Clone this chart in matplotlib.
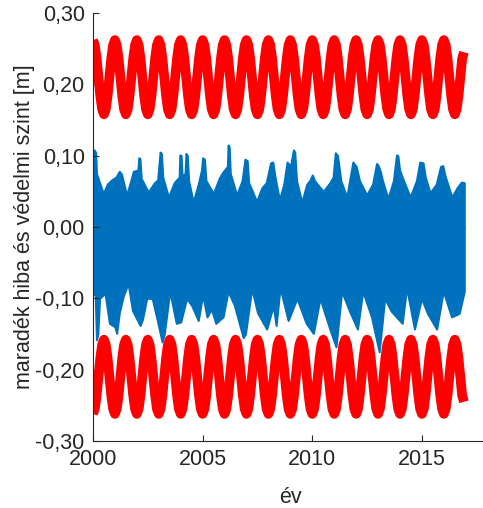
import matplotlib
matplotlib.use("Agg")
import matplotlib.pyplot as plt
import numpy as np

# védelmi szint (protection level), monthly values from Jan 2000, drawn as +/- level
vedelmi_szint = [
    0.262, 0.255, 0.236, 0.210, 0.184, 0.165, 0.158, 0.165, 0.184, 0.210, 0.236, 0.255,  # 2000
    0.262, 0.255, 0.236, 0.210, 0.184, 0.165, 0.158, 0.165, 0.184, 0.210, 0.236, 0.255,  # 2001
    0.262, 0.255, 0.236, 0.210, 0.184, 0.165, 0.158, 0.165, 0.184, 0.210, 0.236, 0.255,  # 2002
    0.262, 0.255, 0.236, 0.210, 0.184, 0.165, 0.158, 0.165, 0.184, 0.210, 0.236, 0.255,  # 2003
    0.262, 0.255, 0.236, 0.210, 0.184, 0.165, 0.158, 0.165, 0.184, 0.210, 0.236, 0.255,  # 2004
    0.262, 0.255, 0.236, 0.210, 0.184, 0.165, 0.158, 0.165, 0.184, 0.210, 0.236, 0.255,  # 2005
    0.262, 0.255, 0.236, 0.210, 0.184, 0.165, 0.158, 0.165, 0.184, 0.210, 0.236, 0.255,  # 2006
    0.262, 0.255, 0.236, 0.210, 0.184, 0.165, 0.158, 0.165, 0.184, 0.210, 0.236, 0.255,  # 2007
    0.262, 0.255, 0.236, 0.210, 0.184, 0.165, 0.158, 0.165, 0.184, 0.210, 0.236, 0.255,  # 2008
    0.262, 0.255, 0.236, 0.210, 0.184, 0.165, 0.158, 0.165, 0.184, 0.210, 0.236, 0.255,  # 2009
    0.262, 0.255, 0.236, 0.210, 0.184, 0.165, 0.158, 0.165, 0.184, 0.210, 0.236, 0.255,  # 2010
    0.262, 0.255, 0.236, 0.210, 0.184, 0.165, 0.158, 0.165, 0.184, 0.210, 0.236, 0.255,  # 2011
    0.262, 0.255, 0.236, 0.210, 0.184, 0.165, 0.158, 0.165, 0.184, 0.210, 0.236, 0.255,  # 2012
    0.262, 0.255, 0.236, 0.210, 0.184, 0.165, 0.158, 0.165, 0.184, 0.210, 0.236, 0.255,  # 2013
    0.262, 0.255, 0.236, 0.210, 0.184, 0.165, 0.158, 0.165, 0.184, 0.210, 0.236, 0.255,  # 2014
    0.262, 0.255, 0.236, 0.210, 0.184, 0.165, 0.158, 0.165, 0.184, 0.210, 0.236, 0.255,  # 2015
    0.262, 0.255, 0.236, 0.210, 0.184, 0.165, 0.158, 0.165, 0.184, 0.210, 0.236, 0.245,  # 2016
]
kezdo_ev = 2000

# residual error (maradék hiba) envelope
felso_ev = [2000.00, 2000.04, 2000.12, 2000.16, 2000.30, 2000.47, 2000.65, 2000.85, 2001.05, 2001.20,
            2001.30, 2001.53, 2001.70, 2001.84, 2002.05, 2002.09, 2002.14, 2002.20, 2002.52, 2002.80,
            2002.95, 2003.06, 2003.12, 2003.18, 2003.44, 2003.70, 2003.93, 2003.96, 2004.02, 2004.06,
            2004.20, 2004.24, 2004.30, 2004.36, 2004.57, 2004.80, 2004.95, 2005.00, 2005.08, 2005.15,
            2005.49, 2005.75, 2005.90, 2006.13, 2006.16, 2006.21, 2006.26, 2006.55, 2006.80, 2006.93,
            2007.03, 2007.10, 2007.46, 2007.70, 2007.90, 2008.10, 2008.20, 2008.30, 2008.50, 2008.70,
            2008.85, 2009.00, 2009.14, 2009.20, 2009.28, 2009.52, 2009.75, 2009.90, 2010.00, 2010.10,
            2010.50, 2010.80, 2010.95, 2011.05, 2011.15, 2011.30, 2011.57, 2011.85, 2012.00, 2012.15,
            2012.48, 2012.75, 2012.93, 2012.99, 2013.10, 2013.20, 2013.45, 2013.70, 2013.84, 2013.90,
            2013.98, 2014.10, 2014.46, 2014.75, 2014.90, 2015.05, 2015.15, 2015.37, 2015.65, 2015.85,
            2015.95, 2016.05, 2016.36, 2016.60, 2016.80, 2016.93]
felso_hiba = [0.060, 0.108, 0.105, 0.075, 0.062, 0.047, 0.060, 0.066, 0.070, 0.078,
              0.074, 0.045, 0.062, 0.078, 0.080, 0.097, 0.096, 0.068, 0.049, 0.062,
              0.066, 0.105, 0.103, 0.070, 0.042, 0.062, 0.070, 0.101, 0.100, 0.072,
              0.075, 0.103, 0.100, 0.065, 0.035, 0.060, 0.080, 0.097, 0.095, 0.065,
              0.047, 0.068, 0.076, 0.085, 0.115, 0.112, 0.075, 0.045, 0.065, 0.095,
              0.093, 0.062, 0.036, 0.055, 0.062, 0.090, 0.091, 0.070, 0.038, 0.060,
              0.091, 0.085, 0.108, 0.105, 0.065, 0.035, 0.060, 0.066, 0.073, 0.065,
              0.050, 0.062, 0.070, 0.104, 0.100, 0.065, 0.042, 0.091, 0.085, 0.065,
              0.045, 0.060, 0.089, 0.087, 0.078, 0.065, 0.040, 0.065, 0.101, 0.100,
              0.080, 0.070, 0.042, 0.065, 0.091, 0.090, 0.070, 0.048, 0.060, 0.085,
              0.086, 0.072, 0.042, 0.055, 0.063, 0.062]

also_ev = [2000.00, 2000.10, 2000.16, 2000.22, 2000.30, 2000.55, 2000.75, 2001.00, 2001.08, 2001.20,
           2001.38, 2001.60, 2001.80, 2002.15, 2002.25, 2002.45, 2002.70, 2002.95, 2003.15, 2003.25,
           2003.50, 2003.80, 2004.00, 2004.27, 2004.50, 2004.80, 2005.00, 2005.20, 2005.40, 2005.60,
           2005.93, 2006.16, 2006.45, 2006.85, 2006.95, 2007.24, 2007.50, 2007.92, 2008.22, 2008.35,
           2008.53, 2008.90, 2009.30, 2009.72, 2010.05, 2010.35, 2010.80, 2011.08, 2011.34, 2011.70,
           2012.06, 2012.30, 2012.70, 2013.05, 2013.30, 2013.60, 2014.10, 2014.30, 2014.66, 2014.98,
           2015.25, 2015.67, 2015.97, 2016.35, 2016.70, 2016.93]
also_hiba = [-0.095, -0.093, -0.158, -0.150, -0.100, -0.093, -0.135, -0.140, -0.149, -0.120,
             -0.097, -0.079, -0.117, -0.138, -0.130, -0.100, -0.100, -0.133, -0.161, -0.150,
             -0.090, -0.135, -0.133, -0.100, -0.110, -0.131, -0.095, -0.126, -0.115, -0.135,
             -0.126, -0.090, -0.110, -0.155, -0.150, -0.086, -0.120, -0.143, -0.110, -0.138,
             -0.085, -0.131, -0.100, -0.135, -0.149, -0.100, -0.143, -0.168, -0.090, -0.118,
             -0.143, -0.090, -0.126, -0.175, -0.100, -0.118, -0.135, -0.085, -0.143, -0.100,
             -0.121, -0.143, -0.090, -0.126, -0.121, -0.090]

x_ticks = [2000, 2005, 2010, 2015]
y_ticks = [-0.3, -0.2, -0.1, 0.0, 0.1, 0.2, 0.3]

KEK = "#0072BD"
PIROS = "#FF0000"
SZURKE = "#262626"

plt.rcParams["font.family"] = ["Liberation Sans", "DejaVu Sans"]
plt.rcParams["font.size"] = 15.5

fig = plt.figure(figsize=(4.83, 5.08), dpi=100)
ax = fig.add_axes([0.1925, 0.1319, 0.8173, 0.8425])

vs = np.array(vedelmi_szint)
t_vs = kezdo_ev + np.arange(len(vs)) / 12.0

# blue residual band
ax.fill_between(felso_ev, 0, felso_hiba, color=KEK, lw=1.5, edgecolor=KEK)
ax.fill_between(also_ev, also_hiba, 0, color=KEK, lw=1.5, edgecolor=KEK)

# red +/- protection level
ax.plot(t_vs, vs, color=PIROS, lw=7, solid_capstyle="butt")
ax.plot(t_vs, -vs, color=PIROS, lw=7, solid_capstyle="butt")

ax.set_xticks(x_ticks)
ax.set_yticks(y_ticks)
ax.set_xlim(2000, 2018)
ax.set_ylim(-0.3, 0.3)
ax.set_yticklabels([f"{v:.2f}".replace(".", ",").replace("-0,00", "0,00") for v in y_ticks])
ax.tick_params(direction="in", length=4, width=0.8, colors=SZURKE, labelcolor=SZURKE, pad=6)
for s in ["top", "right"]:
    ax.spines[s].set_visible(False)
for s in ["left", "bottom"]:
    ax.spines[s].set_color(SZURKE)
    ax.spines[s].set_linewidth(0.8)

ax.set_xlabel("év", color=SZURKE, labelpad=12)
ax.set_ylabel("maradék hiba és védelmi szint [m]", color=SZURKE, labelpad=0)

fig.savefig("out.png", dpi=100)
